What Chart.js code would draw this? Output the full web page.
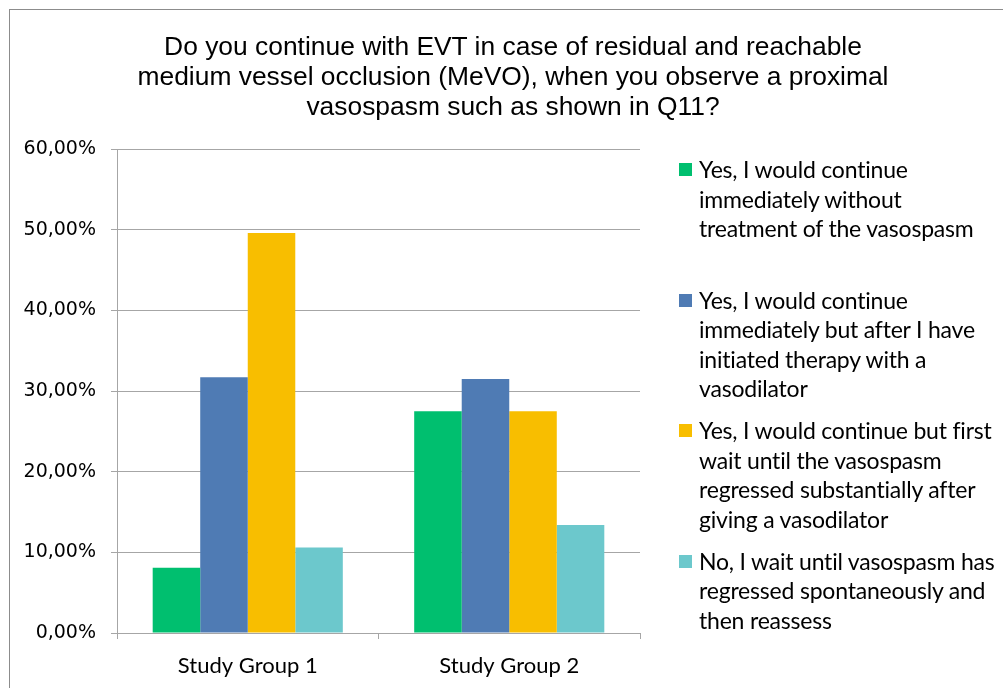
<!DOCTYPE html>
<html>
<head>
<meta charset="utf-8">
<script src="https://cdn.jsdelivr.net/npm/chart.js@4.4.1/dist/chart.umd.min.js"></script>
<style>
  html, body { margin: 0; padding: 0; background: #fff; }
  #wrap { position: relative; width: 1003px; height: 688px; overflow: hidden; }
  #frame { position: absolute; left: 9px; top: 9px; width: 1010px; height: 700px; border: 1px solid #8c8c8c; }
  #chart { position: absolute; left: 0; top: 0; }
  #title { position: absolute; left: 23px; top: 31px; width: 980px; text-align: center;
           font: 26.4px/30px "Liberation Sans", Arial, sans-serif; color: #000; }
  .item { position: absolute; left: 679px; font: 23px/29.5px Lato, "Open Sans", sans-serif;
          letter-spacing: -0.2px; color: #000; white-space: pre; }
  .item .box { position: absolute; left: 0; top: 8px; width: 13px; height: 13px; }
  .item .txt { position: absolute; left: 20px; top: 0; }
</style>
</head>
<body>
<div id="wrap">
  <div id="frame"></div>
  <canvas id="chart" width="1003" height="688"></canvas>
  <div id="title">Do you continue with EVT in case of residual and reachable<br>medium vessel occlusion (MeVO), when you observe a proximal<br>vasospasm such as shown in Q11?</div>
  <div id="legend"></div>
</div>
<script>
// Survey answers, percent of respondents
const groups = ['Study Group 1', 'Study Group 2'];
const answers = [
    'Yes, I would continue\nimmediately without\ntreatment of the vasospasm',
    'Yes, I would continue\nimmediately but after I have\ninitiated therapy with a\nvasodilator',
    'Yes, I would continue but first\nwait until the vasospasm\nregressed substantially after\ngiving a vasodilator',
    'No, I wait until vasospasm has\nregressed spontaneously and\nthen reassess'
];
const continueNow = [8.1, 27.5];
const afterVasodilator = [31.7, 31.5];
const waitRegressed = [49.6, 27.5];
const waitSpontaneous = [10.6, 13.4];
const yTicks = [0, 10, 20, 30, 40, 50, 60];

const colors = ['#00bf6f', '#4f7bb4', '#f8be00', '#6cc8cc'];
const series = [continueNow, afterVasodilator, waitRegressed, waitSpontaneous];

// HTML legend, wrapped like the original
const legend = document.getElementById('legend');
answers.forEach((label, i) => {
    const el = document.createElement('div');
    el.className = 'item';
    el.style.top = (155 + i * 130.5) + 'px';
    el.innerHTML = '<span class="box" style="background:' + colors[i] + '"></span><span class="txt"></span>';
    el.querySelector('.txt').textContent = label;
    legend.appendChild(el);
});

const grid = '#a6a6a6';

new Chart(document.getElementById('chart').getContext('2d'), {
    type: 'bar',
    data: {
        labels: groups,
        datasets: series.map((d, i) => ({
            label: answers[i].replace(/\n/g, ' '),
            data: d,
            backgroundColor: colors[i],
            borderWidth: 0,
            barPercentage: 1,
            categoryPercentage: 0.727
        }))
    },
    options: {
        responsive: false,
        animation: false,
        layout: { padding: { top: 149, right: 363, bottom: 0, left: 0 } },
        plugins: { legend: { display: false }, title: { display: false }, tooltip: { enabled: false } },
        scales: {
            x: {
                grid: { drawOnChartArea: false, color: grid, tickLength: 6 },
                border: { color: grid },
                ticks: { color: '#000', padding: 14, font: { family: 'Lato', size: 22 } },
                afterFit: s => { s.height = 55; }
            },
            y: {
                min: 0,
                max: 60,
                afterBuildTicks: s => { s.ticks = yTicks.map(v => ({ value: v })); },
                grid: { color: grid, tickLength: 6 },
                border: { color: grid },
                ticks: {
                    color: '#000',
                    padding: 15,
                    font: { family: 'DejaVu Sans', size: 19 },
                    callback: v => v.toFixed(2).replace('.', ',') + '%'
                },
                afterFit: s => { s.width = 117; }
            }
        }
    }
});
</script>
</body>
</html>
